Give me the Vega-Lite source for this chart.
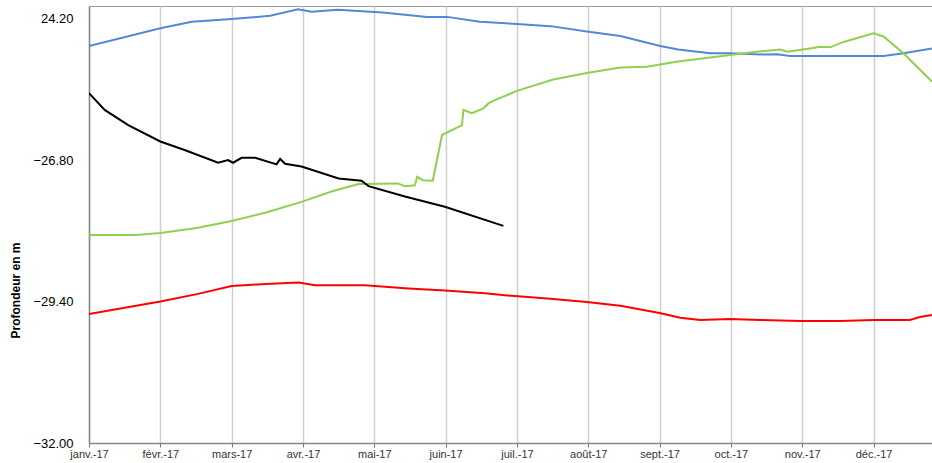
{
  "$schema": "https://vega.github.io/schema/vega-lite/v6.json",
  "autosize": "none",
  "padding": {"left": 89, "top": 6, "right": 0, "bottom": 20},
  "width": 843,
  "height": 437,
  "background": "white",
  "view": {"stroke": "#9a9a9a", "strokeWidth": 1},
  "config": {"font": "Liberation Sans"},
  "data": {"values": [
    {"s": "bleu", "m": 0, "y": -24.705},
    {"s": "bleu", "m": 1.0, "y": -24.38},
    {"s": "bleu", "m": 1.44, "y": -24.26},
    {"s": "bleu", "m": 2.0, "y": -24.21},
    {"s": "bleu", "m": 2.54, "y": -24.15},
    {"s": "bleu", "m": 2.93, "y": -24.03},
    {"s": "bleu", "m": 3.12, "y": -24.075},
    {"s": "bleu", "m": 3.49, "y": -24.04},
    {"s": "bleu", "m": 4.12, "y": -24.09},
    {"s": "bleu", "m": 4.74, "y": -24.17},
    {"s": "bleu", "m": 5.02, "y": -24.17},
    {"s": "bleu", "m": 5.48, "y": -24.26},
    {"s": "bleu", "m": 6.0, "y": -24.30},
    {"s": "bleu", "m": 6.47, "y": -24.34},
    {"s": "bleu", "m": 6.98, "y": -24.44},
    {"s": "bleu", "m": 7.45, "y": -24.52},
    {"s": "bleu", "m": 8.01, "y": -24.705},
    {"s": "bleu", "m": 8.26, "y": -24.77},
    {"s": "bleu", "m": 8.71, "y": -24.84},
    {"s": "bleu", "m": 8.99, "y": -24.84},
    {"s": "bleu", "m": 9.41, "y": -24.86},
    {"s": "bleu", "m": 9.65, "y": -24.855},
    {"s": "bleu", "m": 9.83, "y": -24.89},
    {"s": "bleu", "m": 10.21, "y": -24.89},
    {"s": "bleu", "m": 11.14, "y": -24.89},
    {"s": "bleu", "m": 11.42, "y": -24.84},
    {"s": "bleu", "m": 11.82, "y": -24.75},
    {"s": "rouge", "m": 0, "y": -29.63},
    {"s": "rouge", "m": 1.0, "y": -29.40},
    {"s": "rouge", "m": 1.53, "y": -29.26},
    {"s": "rouge", "m": 2.0, "y": -29.115},
    {"s": "rouge", "m": 2.47, "y": -29.08},
    {"s": "rouge", "m": 2.94, "y": -29.05},
    {"s": "rouge", "m": 3.17, "y": -29.10},
    {"s": "rouge", "m": 3.87, "y": -29.10},
    {"s": "rouge", "m": 4.48, "y": -29.16},
    {"s": "rouge", "m": 4.99, "y": -29.20},
    {"s": "rouge", "m": 5.55, "y": -29.25},
    {"s": "rouge", "m": 5.97, "y": -29.30},
    {"s": "rouge", "m": 6.47, "y": -29.35},
    {"s": "rouge", "m": 6.98, "y": -29.41},
    {"s": "rouge", "m": 7.45, "y": -29.48},
    {"s": "rouge", "m": 8.0, "y": -29.61},
    {"s": "rouge", "m": 8.29, "y": -29.70},
    {"s": "rouge", "m": 8.57, "y": -29.74},
    {"s": "rouge", "m": 8.99, "y": -29.72},
    {"s": "rouge", "m": 9.41, "y": -29.74},
    {"s": "rouge", "m": 9.97, "y": -29.76},
    {"s": "rouge", "m": 10.53, "y": -29.76},
    {"s": "rouge", "m": 11.0, "y": -29.74},
    {"s": "rouge", "m": 11.51, "y": -29.74},
    {"s": "rouge", "m": 11.65, "y": -29.685},
    {"s": "rouge", "m": 11.82, "y": -29.65},
    {"s": "vert", "m": 0, "y": -28.18},
    {"s": "vert", "m": 0.65, "y": -28.18},
    {"s": "vert", "m": 1.0, "y": -28.14},
    {"s": "vert", "m": 1.49, "y": -28.055},
    {"s": "vert", "m": 2.0, "y": -27.92},
    {"s": "vert", "m": 2.47, "y": -27.77},
    {"s": "vert", "m": 2.98, "y": -27.57},
    {"s": "vert", "m": 3.40, "y": -27.38},
    {"s": "vert", "m": 3.78, "y": -27.24},
    {"s": "vert", "m": 4.33, "y": -27.23},
    {"s": "vert", "m": 4.43, "y": -27.28},
    {"s": "vert", "m": 4.57, "y": -27.265},
    {"s": "vert", "m": 4.60, "y": -27.11},
    {"s": "vert", "m": 4.68, "y": -27.17},
    {"s": "vert", "m": 4.82, "y": -27.18},
    {"s": "vert", "m": 4.95, "y": -26.34},
    {"s": "vert", "m": 5.23, "y": -26.16},
    {"s": "vert", "m": 5.25, "y": -25.88},
    {"s": "vert", "m": 5.37, "y": -25.94},
    {"s": "vert", "m": 5.53, "y": -25.85},
    {"s": "vert", "m": 5.60, "y": -25.76},
    {"s": "vert", "m": 5.69, "y": -25.70},
    {"s": "vert", "m": 6.0, "y": -25.53},
    {"s": "vert", "m": 6.51, "y": -25.32},
    {"s": "vert", "m": 6.98, "y": -25.20},
    {"s": "vert", "m": 7.45, "y": -25.10},
    {"s": "vert", "m": 7.82, "y": -25.085},
    {"s": "vert", "m": 8.26, "y": -24.99},
    {"s": "vert", "m": 8.99, "y": -24.87},
    {"s": "vert", "m": 9.36, "y": -24.81},
    {"s": "vert", "m": 9.69, "y": -24.77},
    {"s": "vert", "m": 9.79, "y": -24.81},
    {"s": "vert", "m": 10.11, "y": -24.75},
    {"s": "vert", "m": 10.25, "y": -24.72},
    {"s": "vert", "m": 10.39, "y": -24.73},
    {"s": "vert", "m": 10.58, "y": -24.63},
    {"s": "vert", "m": 11.0, "y": -24.47},
    {"s": "vert", "m": 11.14, "y": -24.53},
    {"s": "vert", "m": 11.42, "y": -24.84},
    {"s": "vert", "m": 11.61, "y": -25.085},
    {"s": "vert", "m": 11.82, "y": -25.36},
    {"s": "noir", "m": 0, "y": -25.57},
    {"s": "noir", "m": 0.22, "y": -25.88},
    {"s": "noir", "m": 0.55, "y": -26.16},
    {"s": "noir", "m": 1.0, "y": -26.46},
    {"s": "noir", "m": 1.35, "y": -26.62},
    {"s": "noir", "m": 1.81, "y": -26.85},
    {"s": "noir", "m": 1.95, "y": -26.80},
    {"s": "noir", "m": 2.02, "y": -26.85},
    {"s": "noir", "m": 2.14, "y": -26.76},
    {"s": "noir", "m": 2.33, "y": -26.76},
    {"s": "noir", "m": 2.63, "y": -26.88},
    {"s": "noir", "m": 2.68, "y": -26.78},
    {"s": "noir", "m": 2.75, "y": -26.87},
    {"s": "noir", "m": 2.98, "y": -26.92},
    {"s": "noir", "m": 3.50, "y": -27.14},
    {"s": "noir", "m": 3.82, "y": -27.18},
    {"s": "noir", "m": 3.92, "y": -27.28},
    {"s": "noir", "m": 4.43, "y": -27.47},
    {"s": "noir", "m": 4.99, "y": -27.66},
    {"s": "noir", "m": 5.81, "y": -28.01}
  ]},
  "mark": {"type": "line", "strokeWidth": 2, "interpolate": "linear", "clip": true},
  "encoding": {
    "x": {
      "field": "m", "type": "quantitative",
      "scale": {"domain": [0, 11.82], "nice": false, "zero": false},
      "axis": {
        "title": null,
        "values": [0, 1, 2, 3, 4, 5, 6, 7, 8, 9, 10, 11],
        "labelExpr": "['janv.-17','févr.-17','mars-17','avr.-17','mai-17','juin-17','juil.-17','août-17','sept.-17','oct.-17','nov.-17','déc.-17'][datum.value]",
        "labelFontSize": 11,
        "labelColor": "#333333",
        "labelFont": "Liberation Sans",
        "labelPadding": 1,
        "labelFlush": false,
        "ticks": true,
        "tickSize": 4,
        "tickColor": "#777777",
        "domainColor": "#888888",
        "domainWidth": 1.5,
        "grid": true,
        "gridColor": "#cfcfcf",
        "gridWidth": 1.5
      }
    },
    "y": {
      "field": "y", "type": "quantitative",
      "scale": {"domain": [-32, -23.97], "nice": false, "zero": false},
      "axis": {
        "title": "Profondeur en m",
        "titleFont": "Liberation Sans",
        "titleFontSize": 12,
        "titleFontWeight": "bold",
        "titleColor": "#000000",
        "titleX": -74,
        "titleY": 284,
        "titleAngle": 270,
        "titleAlign": "center",
        "titleBaseline": "middle",
        "values": [-32, -29.4, -26.8, -24.2],
        "labelExpr": "datum.value > -24.3 ? '24.20' : format(datum.value, '.2f')",
        "labelFontSize": 13,
        "labelColor": "#000000",
        "labelFont": "Liberation Sans",
        "labelPadding": 16,
        "ticks": false,
        "grid": false,
        "domainColor": "#888888",
        "domainWidth": 1.5
      }
    },
    "color": {
      "field": "s", "type": "nominal",
      "scale": {"domain": ["bleu", "rouge", "vert", "noir"], "range": ["#5289d6", "#ff0000", "#8fd04c", "#000000"]},
      "legend": null
    }
  }
}
